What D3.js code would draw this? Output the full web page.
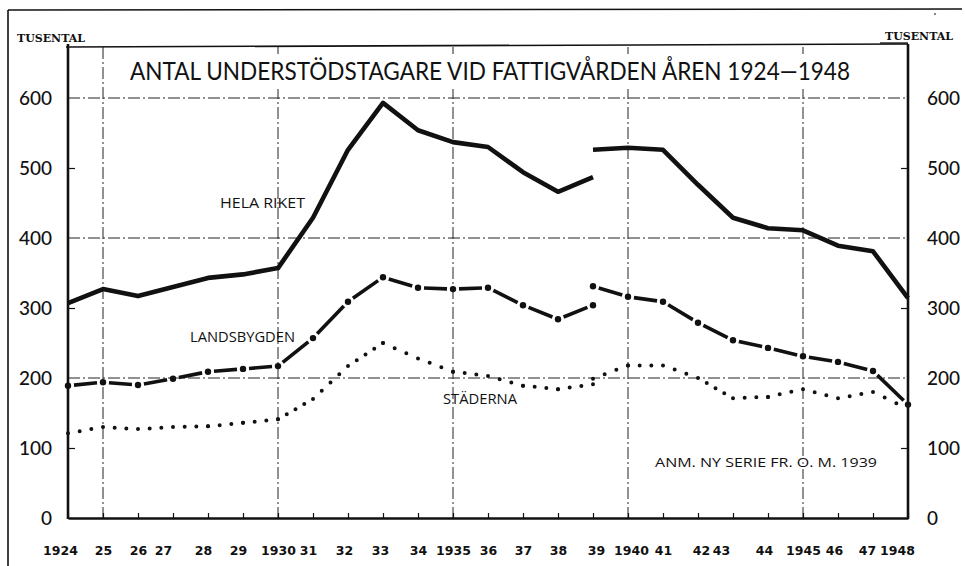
<!DOCTYPE html>
<html><head><meta charset="utf-8">
<script src="https://cdn.jsdelivr.net/npm/d3@7"></script>
<style>body{margin:0;background:#fff}svg{display:block}</style>
</head><body><svg id="c" width="965" height="566"></svg>
<script>
// ---------- data ----------
const years = [1924,1925,1926,1927,1928,1929,1930,1931,1932,1933,1934,1935,1936,1937,1938,1939,1940,1941,1942,1943,1944,1945,1946,1947,1948];
const xTickLabels = ["1924","25","26","27","28","29","1930","31","32","33","34","1935","36","37","38","39","1940","41","42","43","44","1945","46","47","1948"];
const yTicks = [0,100,200,300,400,500,600];
const minorYTicks = [100,300,500];
const gridYears = [1925,1930,1935,1940,1945];
const gridValues = [200,400,600];

// old series 1924-1939, new series 1939-1948 (tusental)
const oldYears = [1924,1925,1926,1927,1928,1929,1930,1931,1932,1933,1934,1935,1936,1937,1938,1939];
const newYears = [1939,1940,1941,1942,1943,1944,1945,1946,1947,1948];
const helaOld = [307,327,317,330,343,348,357,429,526,593,554,537,530,494,466,487];
const helaNew = [526,529,526,476,429,414,411,389,381,314];
const landOld = [189,194,190,199,209,213,217,257,309,344,329,327,329,304,284,304];
const landNew = [331,316,309,279,254,243,231,223,210,162];
const stadOld = [121,130,127,130,131,136,141,170,217,250,228,209,203,189,184,191];
const stadNew = [199,218,218,200,171,173,184,171,180,156];

const title = "ANTAL UNDERSTÖDSTAGARE VID FATTIGVÅRDEN ÅREN 1924—1948";
const unitLabel = "TUSENTAL";
const note = "ANM. NY SERIE FR. O. M. 1939";

// ---------- layout ----------
const svg = d3.select("#c");
const L = 68, R = 908, T = 47, B = 518;
const x = d3.scaleLinear().domain([1924,1948]).range([L,R]);
const y = d3.scaleLinear().domain([0,600]).range([B,98]);
const ink = "#111";
// printed label offsets (styling only)
const xLabelNudge = {1924:-8, 1927:-10, 1928:-5, 1929:-5, 1931:-5, 1932:-4, 1933:-3, 1939:3, 1940:3, 1942:3, 1943:-12, 1944:-4, 1946:-4, 1947:-6, 1948:-11};

// outer frame (top + left)
svg.append("line").attr("x1",8).attr("x2",962).attr("y1",10).attr("y2",9).attr("stroke",ink).attr("stroke-width",1.6);
svg.append("line").attr("x1",8).attr("x2",8).attr("y1",10).attr("y2",566).attr("stroke",ink).attr("stroke-width",1.6);
svg.append("line").attr("x1",934).attr("x2",936).attr("y1",14).attr("y2",14).attr("stroke",ink).attr("stroke-width",1.2);

// grid (dash-dot)
const grid = svg.append("g").attr("stroke","#222").attr("stroke-width",1).attr("stroke-dasharray","12,3,2,3").attr("fill","none");
grid.selectAll("line.v").data(gridYears).join("line").attr("class","v")
  .attr("x1",d=>x(d)).attr("x2",d=>x(d)).attr("y1",T).attr("y2",B);
grid.selectAll("line.h").data(gridValues).join("line").attr("class","h")
  .attr("x1",L).attr("x2",R).attr("y1",d=>y(d)).attr("y2",d=>y(d));

// top frame line of plot
svg.append("line").attr("x1",L-2).attr("x2",R).attr("y1",T).attr("y2",T-3).attr("stroke",ink).attr("stroke-width",1.6);

// title with white backing
const tg = svg.append("g");
const tt = tg.append("text").attr("x",490).attr("y",80).attr("text-anchor","middle")
  .attr("font-family","Lato, 'Open Sans', sans-serif").attr("font-size",24.5).attr("fill",ink)
  .attr("textLength",720).attr("lengthAdjust","spacingAndGlyphs").text(title);
const bb = tt.node().getBBox();
tg.insert("rect","text").attr("x",bb.x-6).attr("y",bb.y-2).attr("width",bb.width+12).attr("height",bb.height+6).attr("fill","#fff");

// axes
const fontNum = "Lato, 'Open Sans', sans-serif";
const axL = svg.append("g").attr("transform",`translate(${L},0)`)
  .call(d3.axisLeft(y).tickValues(yTicks).tickSize(-7).tickSizeOuter(0).tickPadding(16));
const axR = svg.append("g").attr("transform",`translate(${R},0)`)
  .call(d3.axisRight(y).tickValues(yTicks).tickSize(-7).tickSizeOuter(0).tickPadding(19));
const axB = svg.append("g").attr("transform",`translate(0,${B})`)
  .call(d3.axisBottom(x).tickValues(years).tickSize(-5).tickSizeOuter(0).tickPadding(28)
    .tickFormat((d,i)=>xTickLabels[i]));
[axL,axR].forEach(a=>{
  a.select(".domain").attr("stroke",ink).attr("stroke-width",2.6).attr("d",`M0,${T-3}V${B+1}`);
  a.selectAll(".tick line").attr("stroke",ink).attr("stroke-width",1.2)
    .attr("display",d=>minorYTicks.includes(d)?null:"none");
  a.selectAll(".tick text").attr("font-family",fontNum).attr("font-size",19).attr("fill",ink).attr("font-weight",500);
});
axB.select(".domain").attr("stroke",ink).attr("stroke-width",2.6);
axB.selectAll(".tick line").attr("stroke",ink).attr("stroke-width",1.2);
axB.selectAll(".tick text").attr("font-family","'DejaVu Sans', sans-serif").attr("font-weight","bold")
  .attr("font-size",12.5).attr("fill",ink)
  .attr("dx",d=> xLabelNudge[d] || 0);

// unit labels
[[17,"start",42],[953,"end",40]].forEach(([px,anchor,py])=>{
  svg.append("text").attr("x",px).attr("y",py).attr("text-anchor",anchor)
    .attr("font-family","'DejaVu Serif', 'Liberation Serif', serif").attr("font-weight","bold")
    .attr("font-size",11).attr("fill",ink).attr("textLength",68).attr("lengthAdjust","spacingAndGlyphs").text(unitLabel);
});
svg.append("line").attr("x1",880).attr("x2",908).attr("y1",43).attr("y2",43).attr("stroke",ink).attr("stroke-width",1.3);

// ---------- series ----------
const pts = (ys,vs)=>ys.map((d,i)=>[x(d),y(vs[i])]);

// Hela riket: solid thick
const line = d3.line();
[pts(oldYears,helaOld),pts(newYears,helaNew)].forEach(p=>{
  svg.append("path").attr("d",line(p)).attr("fill","none").attr("stroke",ink)
    .attr("stroke-width",4.6).attr("stroke-linejoin","round").attr("stroke-linecap","butt");
});

// Landsbygden: dot at each year, dash between
[pts(oldYears,landOld),pts(newYears,landNew)].forEach(p=>{
  const g = svg.append("g");
  for(let i=0;i<p.length-1;i++){
    const [x0,y0]=p[i],[x1,y1]=p[i+1];
    const dx=x1-x0, dy=y1-y0, len=Math.hypot(dx,dy), ux=dx/len, uy=dy/len, gap=6;
    g.append("line").attr("x1",x0+ux*gap).attr("y1",y0+uy*gap).attr("x2",x1-ux*gap).attr("y2",y1-uy*gap)
      .attr("stroke",ink).attr("stroke-width",3.6);
  }
  g.selectAll("circle").data(p).join("circle").attr("cx",d=>d[0]).attr("cy",d=>d[1]).attr("r",3.2).attr("fill",ink);
});

// Städerna: dotted
[pts(oldYears,stadOld),pts(newYears,stadNew)].forEach(p=>{
  const g = svg.append("g");
  for(let i=0;i<p.length-1;i++){
    const [x0,y0]=p[i],[x1,y1]=p[i+1];
    const len=Math.hypot(x1-x0,y1-y0), n=Math.max(1,Math.round(len/11.5));
    g.append("line").attr("x1",x0).attr("y1",y0).attr("x2",x1).attr("y2",y1)
      .attr("stroke",ink).attr("stroke-width",4).attr("stroke-linecap","round")
      .attr("stroke-dasharray",`0 ${len/n}`);
  }
});

// series labels
const lab = (txt,px,py,w)=>svg.append("text").attr("x",px).attr("y",py)
  .attr("font-family","'Open Sans', Lato, sans-serif").attr("font-size",14).attr("fill",ink)
  .attr("textLength",w).attr("lengthAdjust","spacingAndGlyphs").text(txt);
lab("HELA RIKET",220,208,85);
lab("LANDSBYGDEN",190,342,105);
lab("STÄDERNA",443,404,74);
svg.append("text").attr("x",655).attr("y",467)
  .attr("font-family","'Open Sans', Lato, sans-serif").attr("font-size",12.5).attr("fill",ink)
  .attr("stroke","#fff").attr("stroke-width",4).attr("paint-order","stroke")
  .attr("textLength",222).attr("lengthAdjust","spacingAndGlyphs").text(note);
</script></body></html>
